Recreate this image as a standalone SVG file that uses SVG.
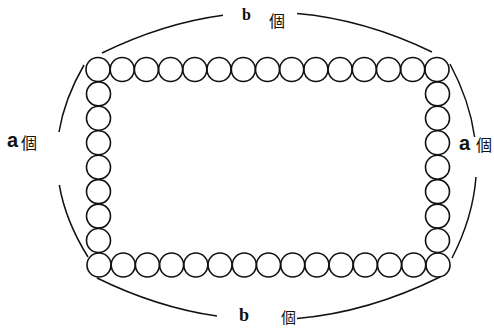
<svg xmlns="http://www.w3.org/2000/svg" width="494" height="329" viewBox="0 0 494 329">
<style>
.bead{fill:none;stroke:#111;stroke-width:1.6}
.arc{fill:none;stroke:#111;stroke-width:1.5}
.lt{font-family:"Liberation Serif",serif;font-weight:bold;fill:#111}
.la{font-family:"Liberation Sans",sans-serif;font-weight:bold;font-size:20px;fill:#111}
.ko{font-family:"Noto Sans CJK JP","Noto Sans CJK SC",sans-serif;font-size:16px;fill:#111}
</style>
<rect width="494" height="329" fill="#fff"/>
<g id="beads-top">
<circle class="bead" cx="98" cy="69.5" r="12"/><circle class="bead" cx="122.2" cy="69.5" r="12"/><circle class="bead" cx="146.4" cy="69.5" r="12"/><circle class="bead" cx="170.6" cy="69.5" r="12"/><circle class="bead" cx="194.8" cy="69.5" r="12"/><circle class="bead" cx="219" cy="69.5" r="12"/><circle class="bead" cx="243.3" cy="69.5" r="12"/><circle class="bead" cx="267.5" cy="69.5" r="12"/><circle class="bead" cx="291.7" cy="69.5" r="12"/><circle class="bead" cx="315.9" cy="69.5" r="12"/><circle class="bead" cx="340.1" cy="69.5" r="12"/><circle class="bead" cx="364.3" cy="69.5" r="12"/><circle class="bead" cx="388.5" cy="69.5" r="12"/><circle class="bead" cx="412.7" cy="69.5" r="12"/><circle class="bead" cx="437" cy="69.5" r="12"/>
</g>
<g id="beads-bottom">
<circle class="bead" cx="99" cy="265" r="12"/><circle class="bead" cx="123.2" cy="265" r="12"/><circle class="bead" cx="147.4" cy="265" r="12"/><circle class="bead" cx="171.6" cy="265" r="12"/><circle class="bead" cx="195.8" cy="265" r="12"/><circle class="bead" cx="220" cy="265" r="12"/><circle class="bead" cx="244.3" cy="265" r="12"/><circle class="bead" cx="268.5" cy="265" r="12"/><circle class="bead" cx="292.7" cy="265" r="12"/><circle class="bead" cx="316.9" cy="265" r="12"/><circle class="bead" cx="341.1" cy="265" r="12"/><circle class="bead" cx="365.3" cy="265" r="12"/><circle class="bead" cx="389.5" cy="265" r="12"/><circle class="bead" cx="413.7" cy="265" r="12"/><circle class="bead" cx="438" cy="265" r="12"/>
</g>
<g id="beads-left">
<circle class="bead" cx="98.5" cy="93.9" r="12"/><circle class="bead" cx="98.5" cy="118.3" r="12"/><circle class="bead" cx="98.5" cy="142.8" r="12"/><circle class="bead" cx="98.5" cy="167.2" r="12"/><circle class="bead" cx="98.5" cy="191.6" r="12"/><circle class="bead" cx="98.5" cy="216.1" r="12"/><circle class="bead" cx="98.5" cy="240.5" r="12"/>
</g>
<g id="beads-right">
<circle class="bead" cx="437.5" cy="93.9" r="12"/><circle class="bead" cx="437.5" cy="118.3" r="12"/><circle class="bead" cx="437.5" cy="142.8" r="12"/><circle class="bead" cx="437.5" cy="167.2" r="12"/><circle class="bead" cx="437.5" cy="191.6" r="12"/><circle class="bead" cx="437.5" cy="216.1" r="12"/><circle class="bead" cx="437.5" cy="240.5" r="12"/>
</g>
<g id="connectors">
<path class="arc" d="M102,53 Q162.6,23.3 223,15.2"/>
<path class="arc" d="M297,13.5 Q364.5,19.3 432,52"/>
<path class="arc" d="M84,65 Q64.5,98.5 59,132"/>
<path class="arc" d="M59.3,185 Q65.5,221 88,257"/>
<path class="arc" d="M450,64 Q469.6,100.5 474.6,137"/>
<path class="arc" d="M476,177 Q472.9,217.5 452,258"/>
<path class="arc" d="M97,278 Q156.9,307.4 217,316.1"/>
<path class="arc" d="M297,318.5 Q368.3,312.4 440,277"/>
</g>
<g id="label-top"><text class="lt" x="242" y="20" font-size="16">b</text><text class="ko" x="269" y="27">個</text></g>
<g id="label-left"><text class="la" x="7" y="147">a</text><text class="ko" x="21" y="149">個</text></g>
<g id="label-right"><text class="la" x="459" y="150">a</text><text class="ko" x="476" y="151">個</text></g>
<g id="label-bottom"><text class="lt" x="239" y="321" font-size="18">b</text><text class="ko" x="281" y="323" font-size="15" style="font-size:15px">個</text></g>
</svg>
